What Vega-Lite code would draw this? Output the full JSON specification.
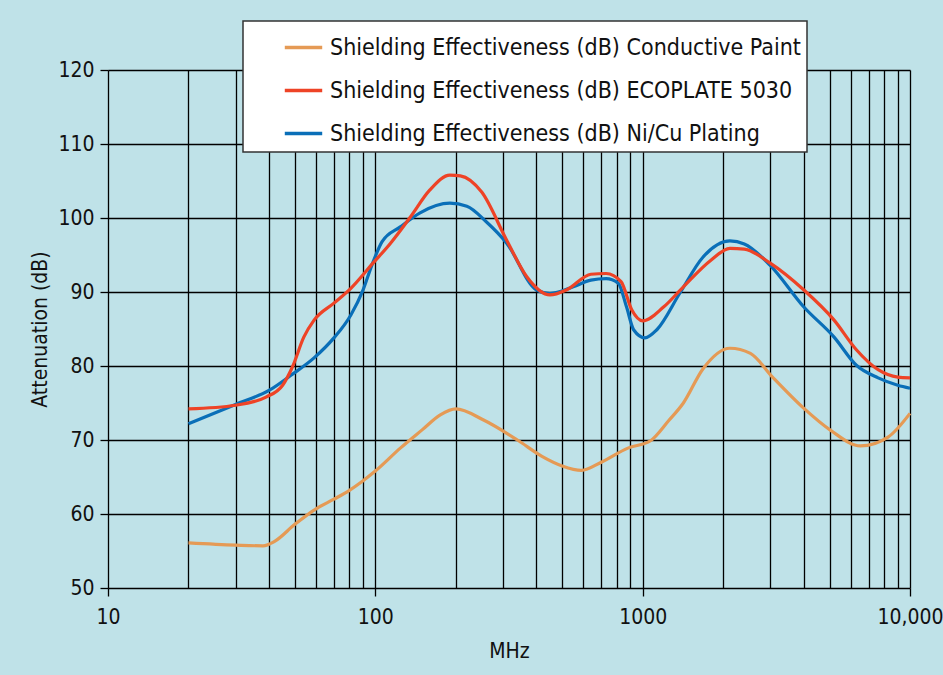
{
  "$schema": "https://vega.github.io/schema/vega-lite/v6.json",
  "width": 802,
  "height": 518,
  "autosize": {"type": "none"},
  "padding": {"left": 108, "top": 70, "right": 33, "bottom": 87},
  "background": "#bfe2e8",
  "config": {
    "view": {"stroke": null},
    "font": "DejaVu Sans Condensed, sans-serif",
    "axis": {"labelFont": "DejaVu Sans Condensed, sans-serif", "titleFont": "DejaVu Sans Condensed, sans-serif"},
    "legend": {"fillColor": "#ffffff", "strokeColor": "#333333", "strokeWidth": 1.5, "cornerRadius": 0, "labelFont": "DejaVu Sans Condensed, sans-serif"}
  },
  "data": {"values": [
    {"s": "Shielding Effectiveness (dB) Conductive Paint", "f": 20, "v": 56.1},
    {"s": "Shielding Effectiveness (dB) Conductive Paint", "f": 30, "v": 55.8},
    {"s": "Shielding Effectiveness (dB) Conductive Paint", "f": 38, "v": 55.7},
    {"s": "Shielding Effectiveness (dB) Conductive Paint", "f": 42, "v": 56.3},
    {"s": "Shielding Effectiveness (dB) Conductive Paint", "f": 50, "v": 58.6},
    {"s": "Shielding Effectiveness (dB) Conductive Paint", "f": 60, "v": 60.7},
    {"s": "Shielding Effectiveness (dB) Conductive Paint", "f": 70, "v": 62.0},
    {"s": "Shielding Effectiveness (dB) Conductive Paint", "f": 80, "v": 63.2},
    {"s": "Shielding Effectiveness (dB) Conductive Paint", "f": 90, "v": 64.5},
    {"s": "Shielding Effectiveness (dB) Conductive Paint", "f": 100, "v": 65.8},
    {"s": "Shielding Effectiveness (dB) Conductive Paint", "f": 124, "v": 68.9},
    {"s": "Shielding Effectiveness (dB) Conductive Paint", "f": 150, "v": 71.4},
    {"s": "Shielding Effectiveness (dB) Conductive Paint", "f": 175, "v": 73.4},
    {"s": "Shielding Effectiveness (dB) Conductive Paint", "f": 200, "v": 74.2},
    {"s": "Shielding Effectiveness (dB) Conductive Paint", "f": 254, "v": 72.7},
    {"s": "Shielding Effectiveness (dB) Conductive Paint", "f": 340, "v": 70.0},
    {"s": "Shielding Effectiveness (dB) Conductive Paint", "f": 420, "v": 67.8},
    {"s": "Shielding Effectiveness (dB) Conductive Paint", "f": 500, "v": 66.5},
    {"s": "Shielding Effectiveness (dB) Conductive Paint", "f": 590, "v": 65.9},
    {"s": "Shielding Effectiveness (dB) Conductive Paint", "f": 700, "v": 67.0},
    {"s": "Shielding Effectiveness (dB) Conductive Paint", "f": 880, "v": 68.9},
    {"s": "Shielding Effectiveness (dB) Conductive Paint", "f": 1070, "v": 69.9},
    {"s": "Shielding Effectiveness (dB) Conductive Paint", "f": 1250, "v": 72.6},
    {"s": "Shielding Effectiveness (dB) Conductive Paint", "f": 1420, "v": 75.0},
    {"s": "Shielding Effectiveness (dB) Conductive Paint", "f": 1680, "v": 79.6},
    {"s": "Shielding Effectiveness (dB) Conductive Paint", "f": 2120, "v": 82.4},
    {"s": "Shielding Effectiveness (dB) Conductive Paint", "f": 2530, "v": 81.7},
    {"s": "Shielding Effectiveness (dB) Conductive Paint", "f": 3060, "v": 78.5},
    {"s": "Shielding Effectiveness (dB) Conductive Paint", "f": 4000, "v": 74.3},
    {"s": "Shielding Effectiveness (dB) Conductive Paint", "f": 5050, "v": 71.3},
    {"s": "Shielding Effectiveness (dB) Conductive Paint", "f": 6530, "v": 69.2},
    {"s": "Shielding Effectiveness (dB) Conductive Paint", "f": 8280, "v": 70.4},
    {"s": "Shielding Effectiveness (dB) Conductive Paint", "f": 10000, "v": 73.6},

    {"s": "Shielding Effectiveness (dB) Ni/Cu Plating", "f": 20, "v": 72.2},
    {"s": "Shielding Effectiveness (dB) Ni/Cu Plating", "f": 30, "v": 74.8},
    {"s": "Shielding Effectiveness (dB) Ni/Cu Plating", "f": 40, "v": 76.7},
    {"s": "Shielding Effectiveness (dB) Ni/Cu Plating", "f": 49, "v": 78.9},
    {"s": "Shielding Effectiveness (dB) Ni/Cu Plating", "f": 59, "v": 81.1},
    {"s": "Shielding Effectiveness (dB) Ni/Cu Plating", "f": 70, "v": 83.8},
    {"s": "Shielding Effectiveness (dB) Ni/Cu Plating", "f": 81, "v": 86.9},
    {"s": "Shielding Effectiveness (dB) Ni/Cu Plating", "f": 90, "v": 90.3},
    {"s": "Shielding Effectiveness (dB) Ni/Cu Plating", "f": 97, "v": 93.6},
    {"s": "Shielding Effectiveness (dB) Ni/Cu Plating", "f": 106, "v": 96.8},
    {"s": "Shielding Effectiveness (dB) Ni/Cu Plating", "f": 124, "v": 98.8},
    {"s": "Shielding Effectiveness (dB) Ni/Cu Plating", "f": 147, "v": 100.7},
    {"s": "Shielding Effectiveness (dB) Ni/Cu Plating", "f": 190, "v": 102.0},
    {"s": "Shielding Effectiveness (dB) Ni/Cu Plating", "f": 220, "v": 101.6},
    {"s": "Shielding Effectiveness (dB) Ni/Cu Plating", "f": 260, "v": 99.5},
    {"s": "Shielding Effectiveness (dB) Ni/Cu Plating", "f": 310, "v": 96.6},
    {"s": "Shielding Effectiveness (dB) Ni/Cu Plating", "f": 400, "v": 90.3},
    {"s": "Shielding Effectiveness (dB) Ni/Cu Plating", "f": 450, "v": 89.8},
    {"s": "Shielding Effectiveness (dB) Ni/Cu Plating", "f": 550, "v": 90.7},
    {"s": "Shielding Effectiveness (dB) Ni/Cu Plating", "f": 640, "v": 91.6},
    {"s": "Shielding Effectiveness (dB) Ni/Cu Plating", "f": 730, "v": 91.8},
    {"s": "Shielding Effectiveness (dB) Ni/Cu Plating", "f": 810, "v": 91.2},
    {"s": "Shielding Effectiveness (dB) Ni/Cu Plating", "f": 870, "v": 88.0},
    {"s": "Shielding Effectiveness (dB) Ni/Cu Plating", "f": 925, "v": 84.9},
    {"s": "Shielding Effectiveness (dB) Ni/Cu Plating", "f": 1020, "v": 83.8},
    {"s": "Shielding Effectiveness (dB) Ni/Cu Plating", "f": 1130, "v": 84.9},
    {"s": "Shielding Effectiveness (dB) Ni/Cu Plating", "f": 1380, "v": 89.9},
    {"s": "Shielding Effectiveness (dB) Ni/Cu Plating", "f": 1680, "v": 94.7},
    {"s": "Shielding Effectiveness (dB) Ni/Cu Plating", "f": 2120, "v": 96.9},
    {"s": "Shielding Effectiveness (dB) Ni/Cu Plating", "f": 2400, "v": 96.5},
    {"s": "Shielding Effectiveness (dB) Ni/Cu Plating", "f": 3000, "v": 93.6},
    {"s": "Shielding Effectiveness (dB) Ni/Cu Plating", "f": 4000, "v": 88.0},
    {"s": "Shielding Effectiveness (dB) Ni/Cu Plating", "f": 5200, "v": 83.9},
    {"s": "Shielding Effectiveness (dB) Ni/Cu Plating", "f": 6300, "v": 80.1},
    {"s": "Shielding Effectiveness (dB) Ni/Cu Plating", "f": 7600, "v": 78.4},
    {"s": "Shielding Effectiveness (dB) Ni/Cu Plating", "f": 9000, "v": 77.4},
    {"s": "Shielding Effectiveness (dB) Ni/Cu Plating", "f": 10000, "v": 77.0},

    {"s": "Shielding Effectiveness (dB) ECOPLATE 5030", "f": 20, "v": 74.2},
    {"s": "Shielding Effectiveness (dB) ECOPLATE 5030", "f": 30, "v": 74.7},
    {"s": "Shielding Effectiveness (dB) ECOPLATE 5030", "f": 39, "v": 75.8},
    {"s": "Shielding Effectiveness (dB) ECOPLATE 5030", "f": 45, "v": 77.4},
    {"s": "Shielding Effectiveness (dB) ECOPLATE 5030", "f": 49, "v": 79.9},
    {"s": "Shielding Effectiveness (dB) ECOPLATE 5030", "f": 54, "v": 83.9},
    {"s": "Shielding Effectiveness (dB) ECOPLATE 5030", "f": 59, "v": 86.2},
    {"s": "Shielding Effectiveness (dB) ECOPLATE 5030", "f": 70, "v": 88.5},
    {"s": "Shielding Effectiveness (dB) ECOPLATE 5030", "f": 81, "v": 90.5},
    {"s": "Shielding Effectiveness (dB) ECOPLATE 5030", "f": 98, "v": 93.9},
    {"s": "Shielding Effectiveness (dB) ECOPLATE 5030", "f": 114, "v": 96.6},
    {"s": "Shielding Effectiveness (dB) ECOPLATE 5030", "f": 135, "v": 100.1},
    {"s": "Shielding Effectiveness (dB) ECOPLATE 5030", "f": 160, "v": 103.8},
    {"s": "Shielding Effectiveness (dB) ECOPLATE 5030", "f": 190, "v": 105.8},
    {"s": "Shielding Effectiveness (dB) ECOPLATE 5030", "f": 208, "v": 105.7},
    {"s": "Shielding Effectiveness (dB) ECOPLATE 5030", "f": 250, "v": 103.5},
    {"s": "Shielding Effectiveness (dB) ECOPLATE 5030", "f": 310, "v": 97.0},
    {"s": "Shielding Effectiveness (dB) ECOPLATE 5030", "f": 368, "v": 92.1},
    {"s": "Shielding Effectiveness (dB) ECOPLATE 5030", "f": 450, "v": 89.6},
    {"s": "Shielding Effectiveness (dB) ECOPLATE 5030", "f": 520, "v": 90.3},
    {"s": "Shielding Effectiveness (dB) ECOPLATE 5030", "f": 640, "v": 92.4},
    {"s": "Shielding Effectiveness (dB) ECOPLATE 5030", "f": 730, "v": 92.5},
    {"s": "Shielding Effectiveness (dB) ECOPLATE 5030", "f": 830, "v": 91.4},
    {"s": "Shielding Effectiveness (dB) ECOPLATE 5030", "f": 910, "v": 87.6},
    {"s": "Shielding Effectiveness (dB) ECOPLATE 5030", "f": 1000, "v": 86.1},
    {"s": "Shielding Effectiveness (dB) ECOPLATE 5030", "f": 1200, "v": 88.0},
    {"s": "Shielding Effectiveness (dB) ECOPLATE 5030", "f": 1420, "v": 90.7},
    {"s": "Shielding Effectiveness (dB) ECOPLATE 5030", "f": 1800, "v": 94.3},
    {"s": "Shielding Effectiveness (dB) ECOPLATE 5030", "f": 2120, "v": 95.9},
    {"s": "Shielding Effectiveness (dB) ECOPLATE 5030", "f": 2400, "v": 95.8},
    {"s": "Shielding Effectiveness (dB) ECOPLATE 5030", "f": 3000, "v": 93.9},
    {"s": "Shielding Effectiveness (dB) ECOPLATE 5030", "f": 4000, "v": 90.3},
    {"s": "Shielding Effectiveness (dB) ECOPLATE 5030", "f": 5200, "v": 86.2},
    {"s": "Shielding Effectiveness (dB) ECOPLATE 5030", "f": 6300, "v": 82.2},
    {"s": "Shielding Effectiveness (dB) ECOPLATE 5030", "f": 7600, "v": 79.5},
    {"s": "Shielding Effectiveness (dB) ECOPLATE 5030", "f": 9000, "v": 78.5},
    {"s": "Shielding Effectiveness (dB) ECOPLATE 5030", "f": 10000, "v": 78.4}
  ]},
  "mark": {"type": "line", "interpolate": "monotone", "strokeWidth": 3.2},
  "encoding": {
    "x": {
      "field": "f", "type": "quantitative",
      "scale": {"type": "log", "domain": [10, 10000], "nice": false},
      "axis": {
        "title": "MHz", "titleFontSize": 21, "titleFontWeight": "normal", "titleColor": "#111", "titlePadding": 13,
        "values": [10,20,30,40,50,60,70,80,90,100,200,300,400,500,600,700,800,900,1000,2000,3000,4000,5000,6000,7000,8000,9000,10000],
        "labelExpr": "datum.value == 10000 ? '10,000' : (datum.value == 10 || datum.value == 100 || datum.value == 1000) ? '' + datum.value : ''",
        "labelFontSize": 21, "labelColor": "#111", "labelPadding": 10, "labelFlush": false, "labelOverlap": false,
        "grid": true, "gridColor": "#000", "gridOpacity": 1, "gridWidth": 1.3,
        "domain": false,
        "tickColor": "#000", "tickSize": 8, "tickWidth": 1.3,
        "tickOpacity": {"condition": {"test": "datum.value == 10 || datum.value == 100 || datum.value == 1000 || datum.value == 10000", "value": 1}, "value": 0}
      }
    },
    "y": {
      "field": "v", "type": "quantitative",
      "scale": {"domain": [50, 120], "nice": false, "zero": false},
      "axis": {
        "title": "Attenuation (dB)", "titleFontSize": 21, "titleFontWeight": "normal", "titleColor": "#111", "titlePadding": 7,
        "values": [50,60,70,80,90,100,110,120],
        "labelFontSize": 21, "labelColor": "#111", "labelPadding": 6,
        "grid": true, "gridColor": "#000", "gridOpacity": 1, "gridWidth": 1.3,
        "domain": false,
        "tickColor": "#000", "tickSize": 8, "tickWidth": 1.3
      }
    },
    "color": {
      "field": "s", "type": "nominal",
      "scale": {
        "domain": ["Shielding Effectiveness (dB) Conductive Paint", "Shielding Effectiveness (dB) ECOPLATE 5030", "Shielding Effectiveness (dB) Ni/Cu Plating"],
        "range": ["#e59a55", "#ee4326", "#0a6fb8"]
      },
      "legend": {
        "title": null, "orient": "none", "legendX": 135, "legendY": -49,
        "padding": 6, "symbolType": "stroke", "symbolSize": 1400, "symbolStrokeWidth": 3.5,
        "symbolOffset": 34, "labelOffset": 6,
        "labelFontSize": 23, "labelColor": "#111", "labelLimit": 600, "rowPadding": 10
      }
    }
  }
}
